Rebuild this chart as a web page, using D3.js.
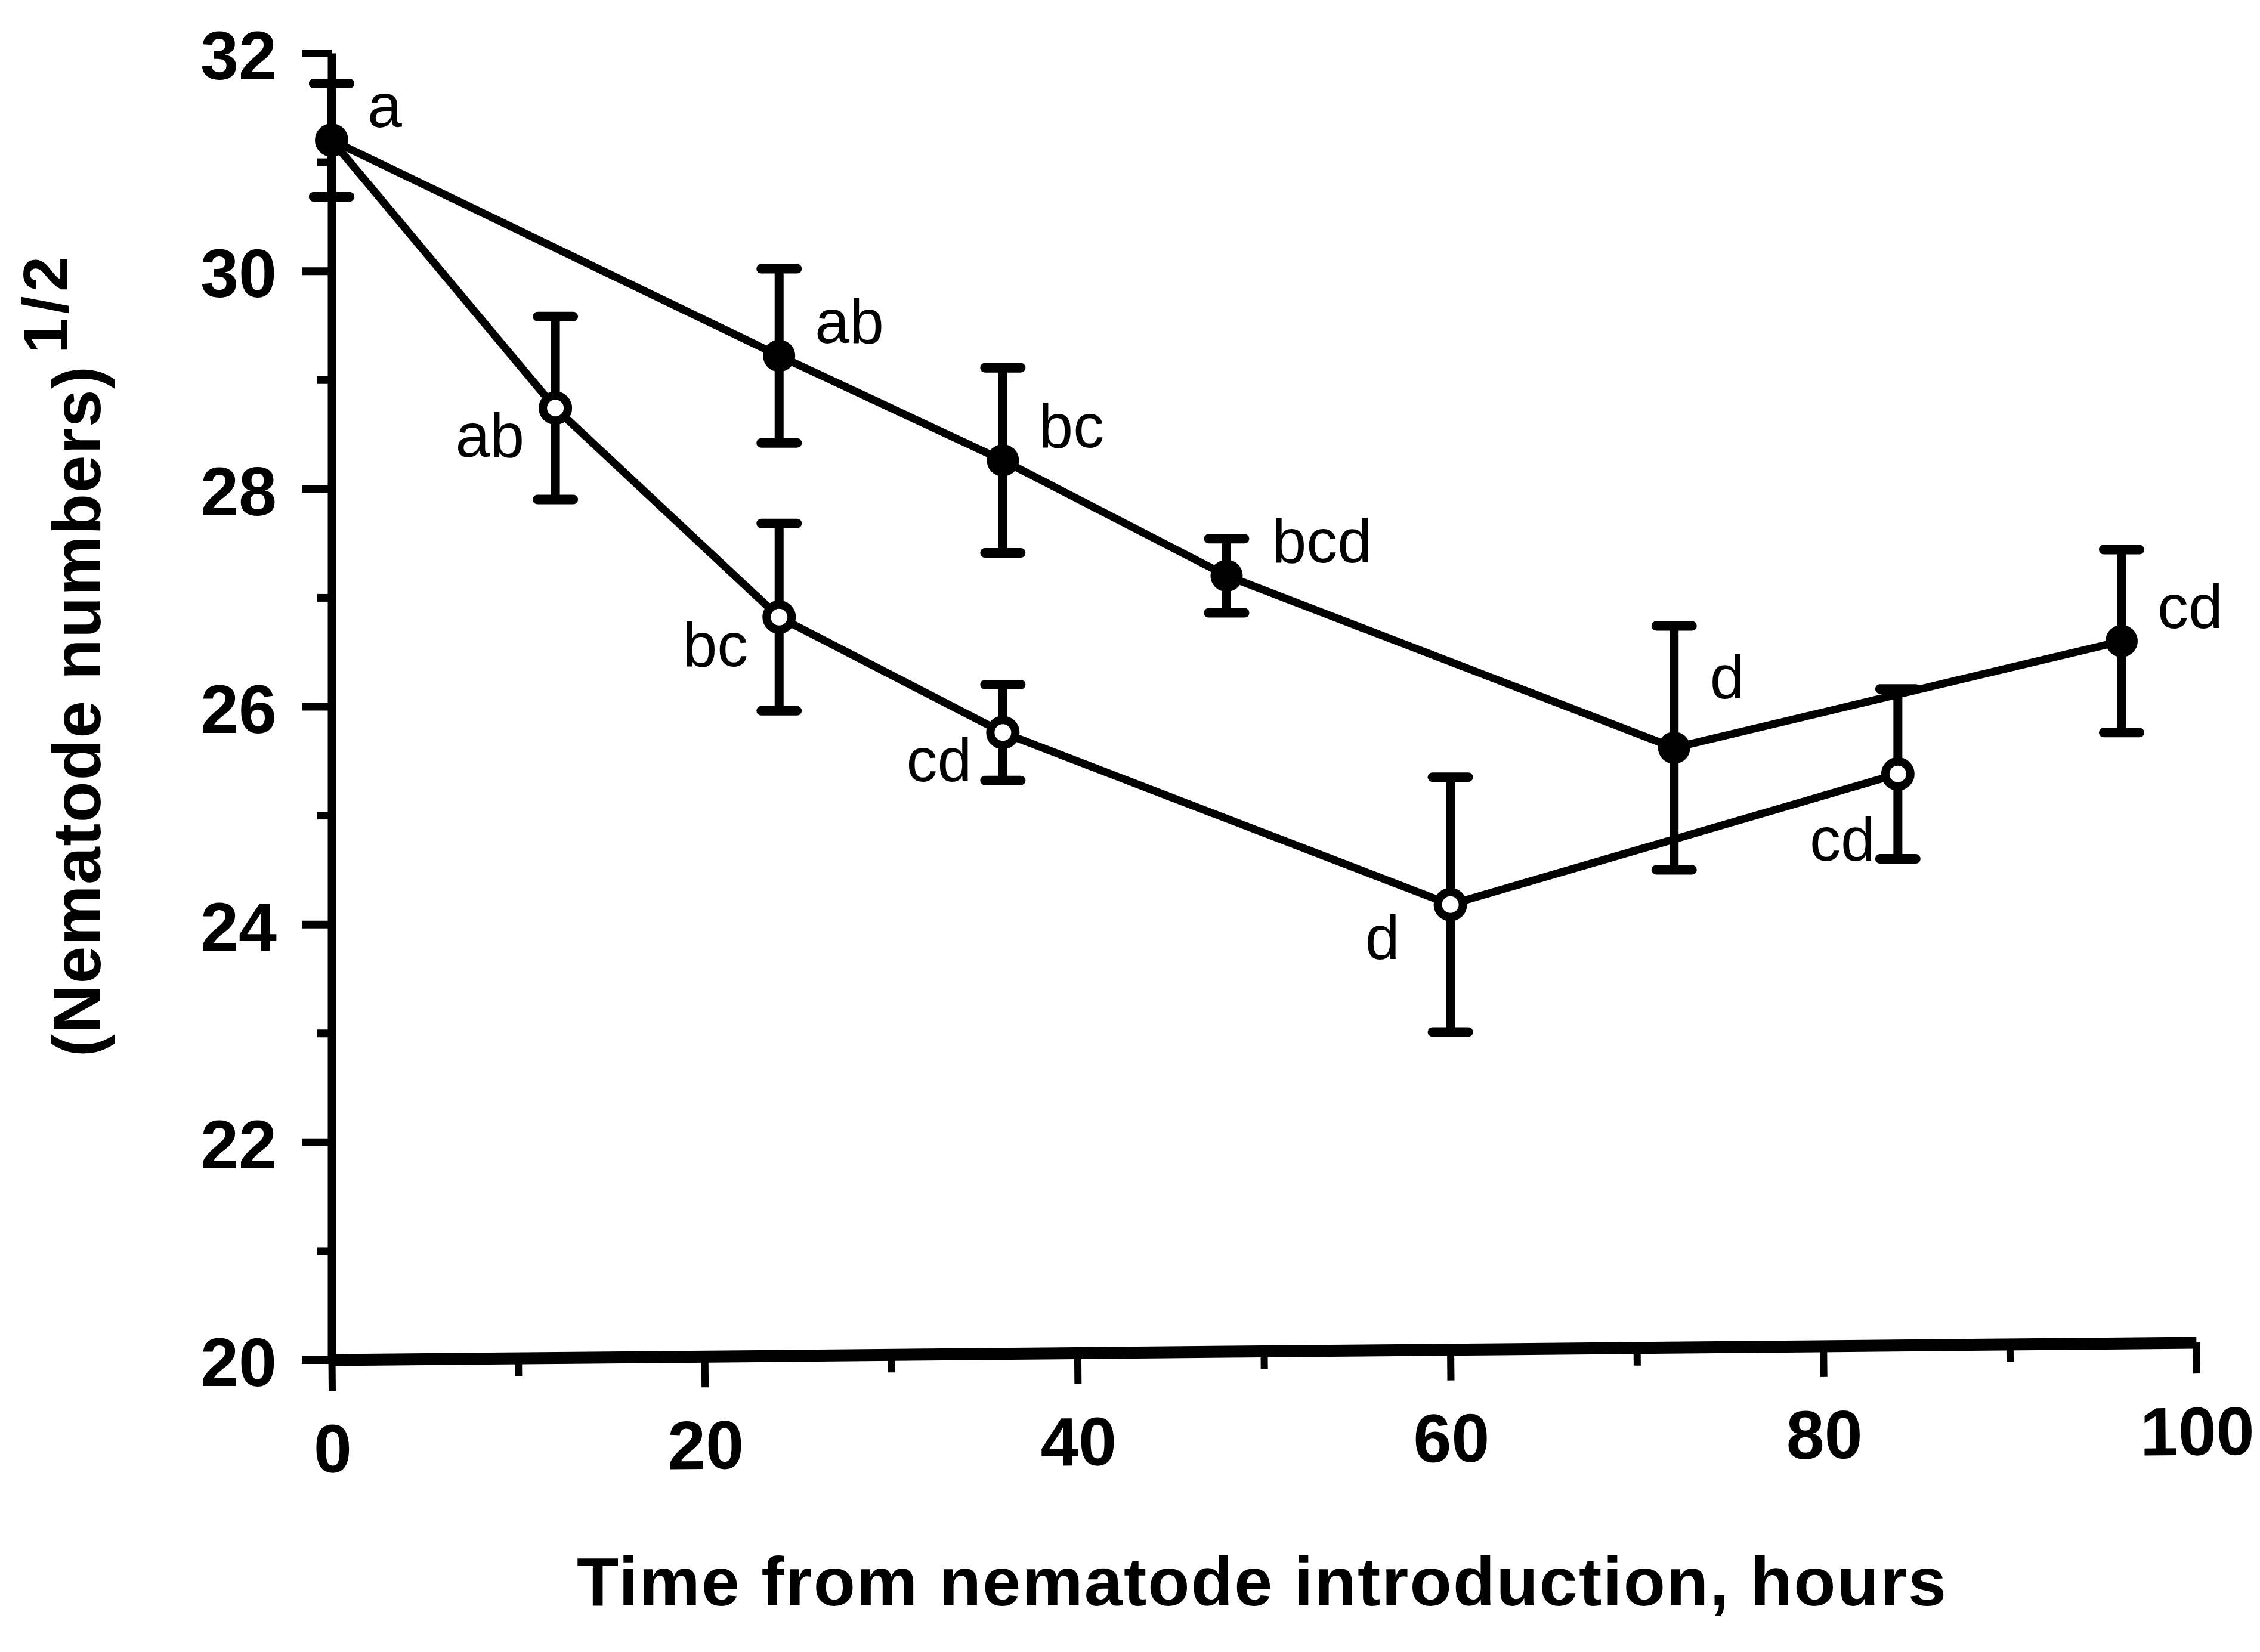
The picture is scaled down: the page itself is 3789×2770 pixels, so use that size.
<!DOCTYPE html>
<html>
<head>
<meta charset="utf-8">
<script src="https://cdn.jsdelivr.net/npm/d3@7"></script>
<style>
  html, body { margin: 0; padding: 0; background: #fff; }
  svg { display: block; }
  text { font-family: "Liberation Sans", Arial, Helvetica, sans-serif; fill: #000; }
</style>
</head>
<body>
<div id="chart"></div>
<script>
// Filled symbols.
var hoursFilled = [0, 24, 36, 48, 72, 96];
var meanFilled = [31.2, 29.22, 28.26, 27.2, 25.62, 26.6];
var errFilled = [0.52, 0.8, 0.85, 0.34, 1.12, 0.84];
var lettersFilled = ['a', 'ab', 'bc', 'bcd', 'd', 'cd'];

// Open symbols.
var hoursOpen = [0, 12, 24, 36, 60, 84];
var meanOpen = [31.2, 28.74, 26.82, 25.76, 24.18, 25.38];
var errOpen = [0.52, 0.84, 0.86, 0.44, 1.17, 0.78];
var lettersOpen = ['', 'ab', 'bc', 'cd', 'd', 'cd'];

// Axis ticks.
var xTicks = [0, 20, 40, 60, 80, 100];
var xMinorTicks = [10, 30, 50, 70, 90];
var yTicks = [20, 22, 24, 26, 28, 30, 32];
var yMinorTicks = [21, 23, 25, 27, 29, 31];

var xTitle = 'Time from nematode introduction, hours';
var yTitle = '(Nematode numbers)';
var yTitleSup = '1/2';

function drawChart() {
    var W = 3789, H = 2770;
    var lineW = 13; // Data line width.
    var barW = 15; // Error bar width.
    var capW = 60; // Error bar cap width.

    // Label placement for the letters (default per series, a few nudged by hand).
    var labelFilled = { dx: 60, dy: -22 };
    var labelOpen = { dx: -52, dy: 82 };
    var nudgeFilled = { 48: { dx: 76 }, 72: { dy: -83 } };
    var nudgeOpen = { 60: { dx: -85, dy: 91 }, 84: { dx: -38, dy: 145 } };

    var x = d3.scaleLinear().domain([0, 100]).range([556, 3682]);
    var y = d3.scaleLinear().domain([20, 32]).range([2280, 89]);

    var svg = d3.select('#chart').append('svg')
        .attr('width', W)
        .attr('height', H);

    // X axis: the original is drawn slightly crooked.
    var gx = svg.append('g')
        .attr('transform', 'rotate(-0.53,' + x(0) + ',' + y(20) + ') translate(0,' + y(20) + ')');

    gx.call(d3.axisBottom(x).tickValues(xMinorTicks).tickSize(30).tickSizeOuter(0).tickFormat(''))
        .select('.domain').remove();
    gx.append('g')
        .call(d3.axisBottom(x).tickValues(xTicks).tickSize(52).tickSizeOuter(0).tickPadding(55));
    gx.selectAll('line').attr('stroke', '#000').attr('stroke-width', 12);
    gx.selectAll('.domain').attr('stroke', '#000').attr('stroke-width', 20);
    gx.selectAll('text')
        .attr('font-size', 115)
        .attr('font-weight', 'bold');

    // Y axis.
    var gy = svg.append('g')
        .attr('transform', 'translate(' + x(0) + ',0)');
    gy.call(d3.axisLeft(y).tickValues(yMinorTicks).tickSize(24).tickSizeOuter(0).tickFormat(''))
        .select('.domain').remove();
    gy.append('g')
        .call(d3.axisLeft(y).tickValues(yTicks).tickSize(50).tickSizeOuter(0).tickPadding(42));
    gy.selectAll('line').attr('stroke', '#000').attr('stroke-width', 13);
    gy.selectAll('.domain').attr('stroke', '#000').attr('stroke-width', 14);
    gy.selectAll('text')
        .attr('font-size', 115)
        .attr('font-weight', 'bold')
        .attr('dy', '0.38em');

    // Axis titles.
    svg.append('text')
        .attr('x', 967)
        .attr('y', 2692)
        .attr('font-size', 115)
        .attr('font-weight', 'bold')
        .attr('textLength', 2296)
        .attr('lengthAdjust', 'spacing')
        .text(xTitle);

    svg.append('text')
        .attr('transform', 'translate(168,1772) rotate(-90)')
        .attr('font-size', 113)
        .attr('font-weight', 'bold')
        .attr('textLength', 1158)
        .attr('lengthAdjust', 'spacing')
        .text(yTitle);

    svg.append('text')
        .attr('transform', 'translate(113,593) rotate(-90)')
        .attr('font-size', 106)
        .attr('font-weight', 'bold')
        .attr('textLength', 163)
        .attr('lengthAdjust', 'spacing')
        .text(yTitleSup);

    var line = d3.line()
        .x(d => x(d.t))
        .y(d => y(d.v));

    function series(hours, means, errs, letters) {
        return hours.map((t, i) => ({ t: t, v: means[i], e: errs[i], label: letters[i] }));
    }

    var open = series(hoursOpen, meanOpen, errOpen, lettersOpen);
    var filled = series(hoursFilled, meanFilled, errFilled, lettersFilled);

    function drawSeries(data, isFilled, lab, nudge) {
        var g = svg.append('g');

        g.append('path')
            .datum(data)
            .attr('d', line)
            .attr('fill', 'none')
            .attr('stroke', '#000')
            .attr('stroke-width', lineW)
            .attr('stroke-linejoin', 'round');

        // Error bars.
        var eb = g.selectAll('.err')
            .data(data)
            .enter()
            .append('g')
            .attr('class', 'err');
        eb.append('line')
            .attr('x1', d => x(d.t)).attr('x2', d => x(d.t))
            .attr('y1', d => y(d.v + d.e)).attr('y2', d => y(d.v - d.e))
            .attr('stroke', '#000').attr('stroke-width', barW);
        eb.selectAll('.cap')
            .data(d => [{ t: d.t, v: d.v + d.e }, { t: d.t, v: d.v - d.e }])
            .enter()
            .append('line')
            .attr('class', 'cap')
            .attr('x1', d => x(d.t) - capW / 2).attr('x2', d => x(d.t) + capW / 2)
            .attr('y1', d => y(d.v)).attr('y2', d => y(d.v))
            .attr('stroke', '#000').attr('stroke-width', 16)
            .attr('stroke-linecap', 'round');

        // Symbols.
        g.selectAll('circle')
            .data(data)
            .enter()
            .append('circle')
            .attr('cx', d => x(d.t))
            .attr('cy', d => y(d.v))
            .attr('r', isFilled ? 27 : 21)
            .attr('fill', isFilled ? '#000' : '#fff')
            .attr('stroke', isFilled ? 'none' : '#000')
            .attr('stroke-width', 14);

        // Letters.
        g.selectAll('.lab')
            .data(data.filter(d => d.label))
            .enter()
            .append('text')
            .attr('class', 'lab')
            .attr('x', d => x(d.t) + ((nudge[d.t] && nudge[d.t].dx !== undefined) ? nudge[d.t].dx : lab.dx))
            .attr('y', d => y(d.v) + ((nudge[d.t] && nudge[d.t].dy !== undefined) ? nudge[d.t].dy : lab.dy))
            .attr('text-anchor', isFilled ? 'start' : 'end')
            .attr('font-size', 104)
            .text(d => d.label);
    }

    drawSeries(open, false, labelOpen, nudgeOpen);
    drawSeries(filled, true, labelFilled, nudgeFilled);
}

drawChart();
</script>
</body>
</html>
